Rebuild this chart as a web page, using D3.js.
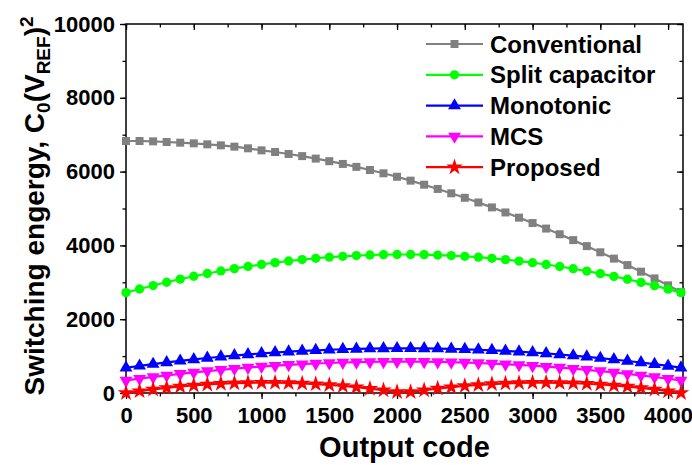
<!DOCTYPE html>
<html>
<head>
<meta charset="utf-8" />
<title>Switching energy</title>
<style>
  body { margin: 0; background: #fff; }
  text { font-family: "Liberation Sans", Arial, sans-serif; font-weight: bold; }
</style>
</head>
<body>
<div id="chart"></div>
<script src="https://cdn.jsdelivr.net/npm/d3@7"></script>
<script>
// output codes where markers sit
var codes = [0, 100, 200, 300, 400, 500, 600, 700, 800, 900, 1000, 1100, 1200, 1300, 1400, 1500, 1600, 1700, 1800, 1900,
  2000, 2100, 2200, 2300, 2400, 2500, 2600, 2700, 2800, 2900, 3000, 3100, 3200, 3300, 3400, 3500, 3600, 3700, 3800, 3900, 4000, 4095];

var conventional = [6829, 6829, 6820, 6802, 6784, 6766, 6739, 6712, 6676, 6631, 6576, 6531, 6477, 6420, 6352, 6282, 6208, 6128, 6043, 5954,
  5860, 5755, 5645, 5530, 5412, 5290, 5163, 5030, 4893, 4752, 4606, 4456, 4302, 4143, 3980, 3813, 3642, 3467, 3288, 3105, 2918, 2738];

var splitCap = [2720, 2819, 2912, 3001, 3085, 3164, 3238, 3307, 3371, 3430, 3484, 3533, 3577, 3617, 3651, 3681, 3705, 3725, 3740, 3750,
  3754, 3754, 3749, 3739, 3724, 3705, 3680, 3650, 3615, 3576, 3531, 3482, 3428, 3368, 3304, 3235, 3161, 3082, 2998, 2909, 2815, 2721];

var monotonic = [685, 735, 783, 828, 870, 910, 948, 983, 1015, 1045, 1073, 1097, 1120, 1140, 1157, 1172, 1185, 1195, 1202, 1207,
  1210, 1210, 1207, 1202, 1195, 1184, 1172, 1157, 1139, 1119, 1097, 1072, 1044, 1014, 981, 946, 908, 868, 826, 781, 733, 686];

var mcs = [340, 389, 435, 478, 520, 559, 595, 629, 661, 690, 716, 741, 763, 782, 799, 813, 826, 835, 843, 847,
  850, 850, 847, 842, 835, 825, 813, 798, 781, 762, 740, 715, 689, 659, 628, 594, 557, 518, 477, 433, 387, 341];

var proposed = [0, 52, 99, 140, 176, 207, 232, 252, 267, 276, 280, 278, 272, 260, 242, 219, 191, 158, 119, 75,
  26, 28, 77, 121, 159, 193, 220, 243, 260, 272, 279, 280, 276, 266, 251, 231, 206, 175, 138, 97, 50, 0];

var seriesNames = ["Conventional", "Split capacitor", "Monotonic", "MCS", "Proposed"];
var xTicks = [0, 500, 1000, 1500, 2000, 2500, 3000, 3500, 4000];
var yTicks = [0, 2000, 4000, 6000, 8000, 10000];

var width = 692, height = 465;
var pL = 126, pR = 683, pT = 24, pB = 393;

var series = [
  { name: seriesNames[0], values: conventional, color: "#808080", shape: d3.symbolSquare, size: 64, rot: 0 },
  { name: seriesNames[1], values: splitCap, color: "#00FF00", shape: d3.symbolCircle, size: 68, rot: 0 },
  { name: seriesNames[2], values: monotonic, color: "#0000FF", shape: d3.symbolTriangle, size: 72, rot: 0 },
  { name: seriesNames[3], values: mcs, color: "#FF00FF", shape: d3.symbolTriangle, size: 72, rot: 180 },
  { name: seriesNames[4], values: proposed, color: "#FF0000", shape: d3.symbolStar, size: 85, rot: 0 }
];

var svg = d3.select("#chart").append("svg").attr("width", width).attr("height", height);

var x = d3.scaleLinear().domain([0, 4110]).range([pL, pR]);
var y = d3.scaleLinear().domain([0, 10000]).range([pB, pT]);

var xMinor = d3.range(0, 4110, 250);
var yMinor = d3.range(0, 10001, 1000);

function noDomain(g) { g.select(".domain").remove(); }

// outward ticks on bottom/left
svg.append("g").attr("transform", "translate(0," + pB + ")")
  .call(d3.axisBottom(x).tickValues(xMinor).tickSize(3.5).tickFormat("")).call(noDomain);
var xa = svg.append("g").attr("transform", "translate(0," + pB + ")")
  .call(d3.axisBottom(x).tickValues(xTicks).tickSize(6).tickPadding(8).tickFormat(d3.format("d")))
  .call(noDomain);
xa.selectAll("text").attr("font-size", 22).attr("fill", "#000");

svg.append("g").attr("transform", "translate(" + pL + ",0)")
  .call(d3.axisLeft(y).tickValues(yMinor).tickSize(3.5).tickFormat("")).call(noDomain);
var ya = svg.append("g").attr("transform", "translate(" + pL + ",0)")
  .call(d3.axisLeft(y).tickValues(yTicks).tickSize(6).tickPadding(5).tickFormat(d3.format("d")))
  .call(noDomain);
ya.selectAll("text").attr("font-size", 22).attr("fill", "#000");

// mirror ticks inward on top/right
svg.append("g").attr("transform", "translate(0," + pT + ")")
  .call(d3.axisBottom(x).tickValues(xMinor).tickSize(3.5).tickFormat("")).call(noDomain);
svg.append("g").attr("transform", "translate(0," + pT + ")")
  .call(d3.axisBottom(x).tickValues(xTicks).tickSize(6).tickFormat("")).call(noDomain);
svg.append("g").attr("transform", "translate(" + pR + ",0)")
  .call(d3.axisLeft(y).tickValues(yMinor).tickSize(3.5).tickFormat("")).call(noDomain);
svg.append("g").attr("transform", "translate(" + pR + ",0)")
  .call(d3.axisLeft(y).tickValues(yTicks).tickSize(6).tickFormat("")).call(noDomain);
svg.selectAll(".tick line").attr("stroke", "#000").attr("stroke-width", 1.3);

svg.append("rect").attr("x", pL).attr("y", pT).attr("width", pR - pL).attr("height", pB - pT)
  .attr("fill", "none").attr("stroke", "#000").attr("stroke-width", 1.5);

// curves
var line = d3.line().x(function(d, i) { return x(codes[i]); }).y(function(d) { return y(d); });

series.forEach(function(s) {
  svg.append("path").datum(s.values).attr("d", line).attr("fill", "none")
    .attr("stroke", s.color).attr("stroke-width", 2.2);
  var sym = d3.symbol().type(s.shape).size(s.size);
  svg.append("g").selectAll("path").data(s.values).enter().append("path")
    .attr("d", sym)
    .attr("transform", function(d, i) { return "translate(" + x(codes[i]) + "," + y(d) + ") rotate(" + s.rot + ")"; })
    .attr("fill", s.color);
});

// legend
var lg = svg.append("g");
series.forEach(function(s, i) {
  var ly = 44 + i * 30.8;
  lg.append("line").attr("x1", 426).attr("x2", 483).attr("y1", ly).attr("y2", ly)
    .attr("stroke", s.color).attr("stroke-width", 2.2);
  lg.append("path").attr("d", d3.symbol().type(s.shape).size(s.size))
    .attr("transform", "translate(454.5," + ly + ") rotate(" + s.rot + ")").attr("fill", s.color);
  lg.append("text").attr("x", 490).attr("y", ly + 8.5).attr("font-size", 24).text(s.name);
});

// axis titles
svg.append("text").attr("x", (pL + pR) / 2).attr("y", 457).attr("text-anchor", "middle")
  .attr("font-size", 29).text("Output code");

var yl = svg.append("text").attr("transform", "translate(44,206) rotate(-90)")
  .attr("text-anchor", "middle").attr("font-size", 28);
yl.append("tspan").text("Switching engergy, C");
yl.append("tspan").attr("font-size", 19).attr("dy", 6).text("0");
yl.append("tspan").attr("dy", -6).text("(V");
yl.append("tspan").attr("font-size", 19).attr("dy", 6).text("REF");
yl.append("tspan").attr("dy", -6).text(")");
yl.append("tspan").attr("font-size", 19).attr("dy", -11).text("2");
</script>
</body>
</html>
